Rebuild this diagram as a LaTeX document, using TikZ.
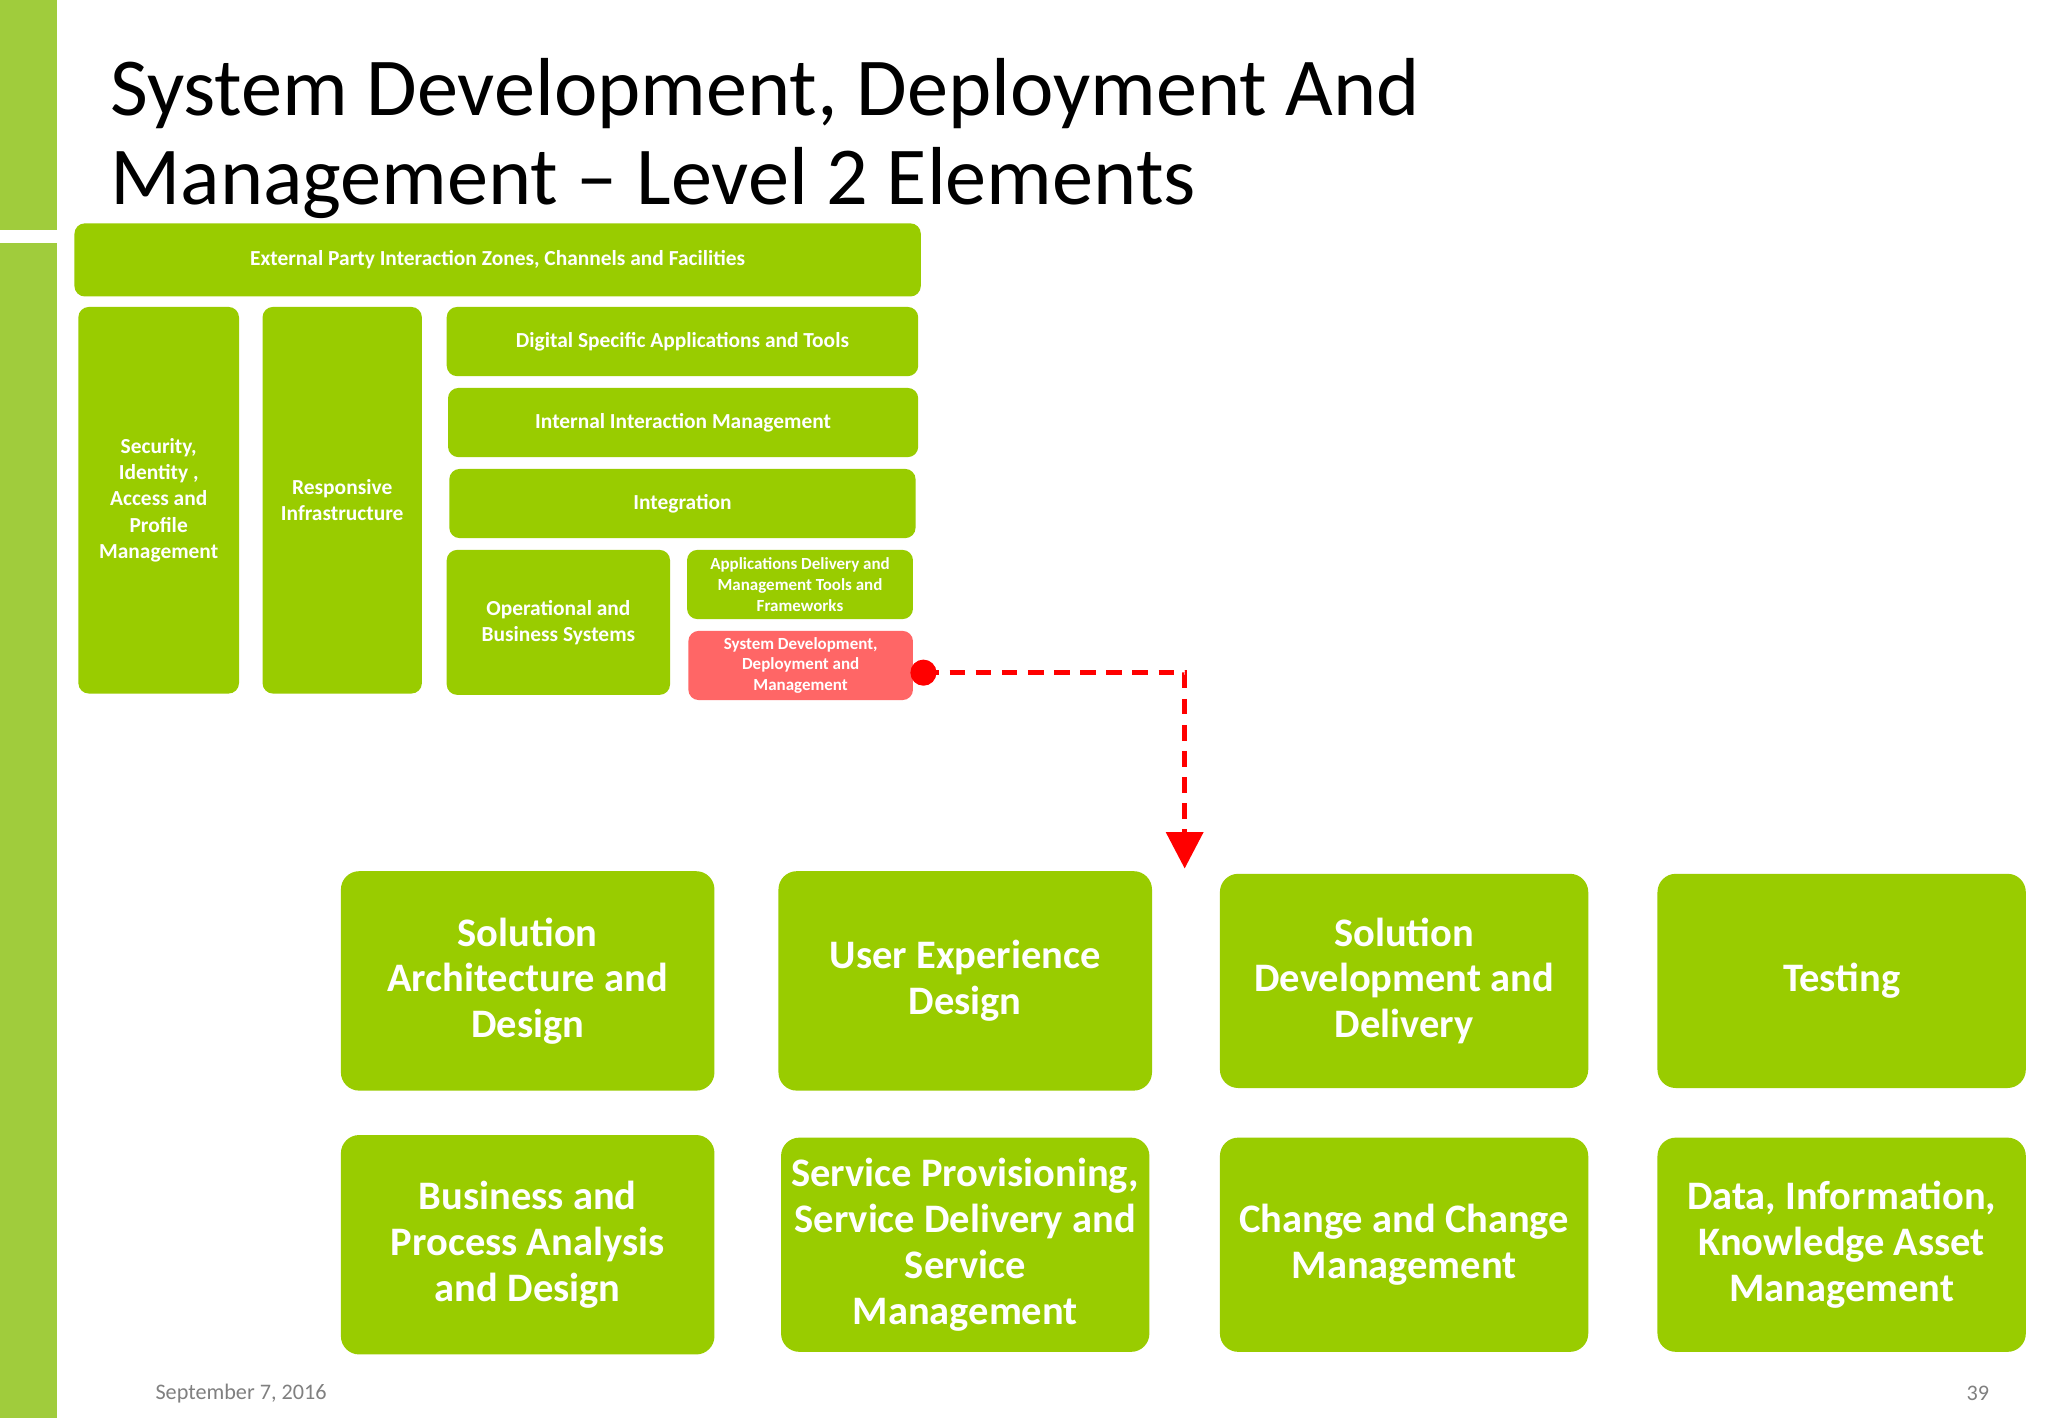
\documentclass[tikz,border=0pt]{standalone}
\usepackage{fontspec}
\setmainfont{Carlito}
\usetikzlibrary{arrows.meta}
\definecolor{gbox}{HTML}{99CC00}
\definecolor{gbar}{HTML}{A0CC3C}
\definecolor{rbox}{HTML}{FF6666}
\begin{document}
\begin{tikzpicture}[x=0.5pt,y=-0.5pt,
 sb/.style={fill=gbox,draw=none,rounded corners=4pt,text=white,font=\bfseries\fontsize{8.2}{10}\selectfont,align=center},
 bb/.style={fill=gbox,draw=none,rounded corners=7pt,text=white,font=\bfseries\fontsize{15.5}{17.5}\selectfont,align=center}]
\useasboundingbox (0,0) rectangle (1568,1086);
\fill[white] (0,0) rectangle (1568,1086);
\fill[gbar] (0,0) rectangle (44,176);
\fill[gbar] (0,186) rectangle (44,1086);
\node[anchor=west,font=\fontsize{31.5}{34}\selectfont,align=left,inner xsep=0pt] (title) at (84,106) {System Development, Deployment And\\Management -- Level 2 Elements};
\newcommand{\bx}[6]{\draw[#1] (#2,#3) rectangle (#4,#5); \node[#1,fill=none] at ({(#2+#4)/2},{(#3+#5)/2}) {#6};}
\bx{sb}{57}{171}{705}{227}{External Party Interaction Zones, Channels and Facilities}
\bx{sb}{60}{235}{183}{531}{Security,\\Identity ,\\Access and\\Profile\\Management}
\bx{sb}{201}{235}{323}{531}{Responsive\\Infrastructure}
\bx{sb}{342}{235}{703}{288}{Digital Specific Applications and Tools}
\bx{sb}{343}{297}{703}{350}{Internal Interaction Management}
\bx{sb}{344}{359}{701}{412}{Integration}
\bx{sb}{342}{421}{513}{532}{Operational and\\Business Systems}
\bx{sb,font=\bfseries\fontsize{6.5}{8}\selectfont}{526}{421}{699}{474}{Applications Delivery and\\Management Tools and\\Frameworks}
\bx{sb,fill=rbox,font=\bfseries\fontsize{6.5}{8}\selectfont}{527}{483}{699}{536}{System Development,\\Deployment and\\Management}
\coordinate (s) at (707,515);
\coordinate (t) at (907,665);
\fill[red] (s) circle (5pt);
\draw[red,line width=2pt,dash pattern=on 6pt off 4pt,-{Triangle[width=14pt,length=14pt]}] (s) -| (t);
\bx{bb}{261}{667}{547}{835}{Solution\\Architecture and\\Design}
\bx{bb}{596}{667}{882}{835}{User Experience\\Design}
\bx{bb}{934}{669}{1216}{833}{Solution\\Development and\\Delivery}
\bx{bb}{1269}{669}{1551}{833}{Testing}
\bx{bb}{261}{869}{547}{1037}{Business and\\Process Analysis\\and Design}
\bx{bb}{598}{871}{880}{1035}{Service Provisioning,\\Service Delivery and\\Service\\Management}
\bx{bb}{934}{871}{1216}{1035}{Change and Change\\Management}
\bx{bb}{1269}{871}{1551}{1035}{Data, Information,\\Knowledge Asset\\Management}
\node[anchor=west,text=gray,font=\fontsize{8.5}{10}\selectfont] (date) at (112,1067) {September 7, 2016};
\node[anchor=east,text=gray,font=\fontsize{8.5}{10}\selectfont] (pg) at (1530,1067) {39};
\end{tikzpicture}
\end{document}
